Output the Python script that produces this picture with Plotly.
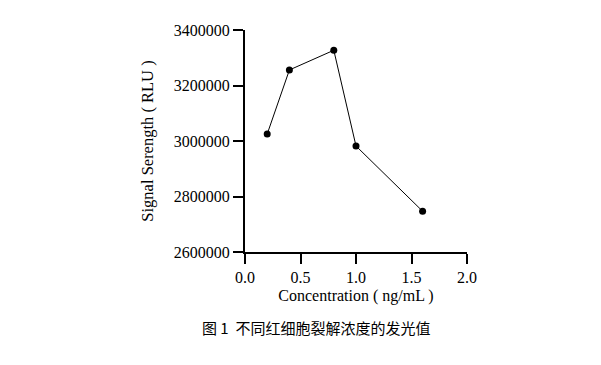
import plotly.graph_objects as go

concentration = [0.2, 0.4, 0.8, 1.0, 1.6]
signal = [3025000, 3256000, 3327000, 2982000, 2747000]
x_ticks = [0.0, 0.5, 1.0, 1.5, 2.0]
x_tick_labels = ["0.0", "0.5", "1.0", "1.5", "2.0"]
y_ticks = [2600000, 2800000, 3000000, 3200000, 3400000]
y_tick_labels = ["2600000", "2800000", "3000000", "3200000", "3400000"]
x_title = "Concentration ( ng/mL )"
y_title = "Signal Serength ( RLU )"
caption = "图 1  不同红细胞裂解浓度的发光值"

serif = "Liberation Serif, Times New Roman, serif"

fig = go.Figure()
fig.add_trace(go.Scatter(
    x=concentration, y=signal, mode="lines+markers",
    line=dict(color="black", width=1),
    marker=dict(color="black", size=7),
    showlegend=False,
))

fig.update_layout(
    width=593, height=357,
    margin=dict(l=237, r=134, t=22, b=113),
    paper_bgcolor="white", plot_bgcolor="white",
    font=dict(family=serif, color="black", size=16),
    xaxis=dict(
        range=[0, 2.0], tickvals=x_ticks, ticktext=x_tick_labels,
        showgrid=False, zeroline=False, showline=True, linecolor="black", linewidth=2,
        ticks="outside", ticklen=10, tickwidth=2, tickcolor="black",
        tickfont=dict(family=serif, size=16),
        title=dict(text=x_title, font=dict(family=serif, size=16), standoff=5),
    ),
    yaxis=dict(
        range=[2600000, 3400000], tickvals=y_ticks, ticktext=y_tick_labels,
        showgrid=False, zeroline=False, showline=True, linecolor="black", linewidth=2,
        ticks="outside", ticklen=10, tickwidth=2, tickcolor="black",
        tickfont=dict(family=serif, size=16),
        title=dict(text=y_title, font=dict(family=serif, size=16.5), standoff=16),
    ),
    annotations=[dict(
        text=caption, xref="paper", yref="paper", x=0.32, y=-0.342,
        xanchor="center", yanchor="middle", showarrow=False,
        font=dict(family="Noto Sans CJK SC", size=15, color="black"),
    )],
)

fig.write_html("out.html")
